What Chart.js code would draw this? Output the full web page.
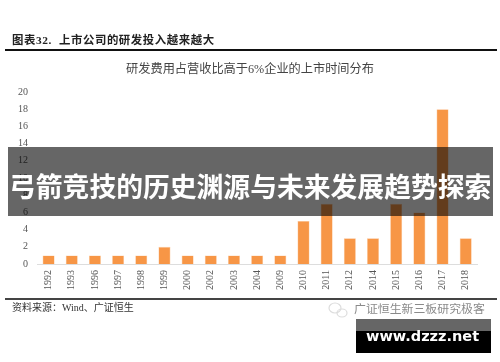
<!DOCTYPE html>
<html lang="zh">
<head>
<meta charset="utf-8">
<style>
html,body{margin:0;padding:0;background:#fff;}
#wrap{position:relative;width:500px;height:362px;overflow:hidden;filter:blur(0.45px);font-family:"Liberation Serif","Noto Sans CJK SC",serif;}
canvas{position:absolute;left:0;top:0;}
.t{position:absolute;white-space:nowrap;}
.rule{position:absolute;}
</style>
</head>
<body>
<div id="wrap">
  <canvas id="c" width="500" height="362"></canvas>
  <div class="t" style="left:12px;top:33px;font-size:11.4px;line-height:14px;font-weight:bold;letter-spacing:.6px;color:#222;">图表32.&nbsp; 上市公司的研发投入越来越大</div>
  <div class="rule" style="left:5px;top:49px;width:492px;height:2px;background:#111;"></div>
  <div class="t" id="title" style="left:0;width:500px;text-align:center;top:61px;font-size:12.2px;line-height:16px;color:#444;"></div>
  <div class="rule" style="left:5px;top:298px;width:492px;height:2px;background:#444;"></div>
  <div class="t" style="left:12px;top:301px;font-size:10px;line-height:14px;color:#333;">资料来源：Wind、广证恒生</div>
  <svg style="position:absolute;left:327px;top:300px;" width="22" height="20"><g fill="none" stroke="#ddd" stroke-width="1.2"><ellipse cx="8" cy="8" rx="6" ry="5"/><ellipse cx="15" cy="13" rx="5" ry="4"/></g></svg>
  <div class="t" style="left:354px;top:300px;font-family:'Noto Sans CJK SC';font-size:11.9px;line-height:16px;color:#8a8a8a;">广证恒生新三板研究极客</div>
  <div style="position:absolute;left:8px;top:147px;width:485px;height:69px;background:rgba(0,0,0,.6);"></div>
  <div class="t" style="left:9px;top:167px;font-family:'Noto Sans CJK SC';font-size:26.8px;line-height:38px;font-weight:bold;color:#fff;">弓箭竞技的历史渊源与未来发展趋势探索</div>
  <div style="position:absolute;left:356px;top:319px;width:135px;height:12px;background:#666;"></div>
  <div style="position:absolute;left:356px;top:331px;width:135px;height:22px;background:#000;"></div>
  <div class="t" style="left:366px;top:326px;font-family:'DejaVu Sans';font-size:14.5px;line-height:20px;font-weight:bold;color:#fff;">www.dzzz.net</div>
</div>
<script src="https://cdn.jsdelivr.net/npm/chart.js@4/dist/chart.umd.min.js"></script>
<script>
const categories = ['1992','1993','1996','1997','1998','1999','2000','2002','2003','2004','2009','2010','2011','2012','2014','2015','2016','2017','2018'];
const companies = [1,1,1,1,1,2,1,1,1,1,1,5,7,3,3,7,6,18,3];
const chartTitle = '研发费用占营收比高于6%企业的上市时间分布';
const tickFont = {family:'"Liberation Serif","Noto Sans CJK SC",serif', size:10};

document.getElementById('title').textContent = chartTitle;

new Chart(document.getElementById('c'), {
  type:'bar',
  data:{labels:categories, datasets:[{
    data:companies,
    backgroundColor:'#F79646',
    borderColor:'#FBC79C',
    borderWidth:0.6,
    barPercentage:0.52,
    categoryPercentage:1
  }]},
  options:{
    responsive:false,
    animation:false,
    layout:{padding:{left:0,right:22.7,top:92,bottom:0}},
    plugins:{
      legend:{display:false},
      tooltip:{enabled:false},
      title:{display:false}
    },
    scales:{
      x:{
        grid:{display:false,drawTicks:false},
        border:{color:'#DDDDDD',width:1},
        ticks:{color:'#555',font:tickFont,maxRotation:90,minRotation:90,padding:6,autoSkip:false},
        afterFit(s){s.height=98;}
      },
      y:{
        min:0,max:20,
        grid:{display:false,drawTicks:false},
        border:{display:false},
        ticks:{stepSize:2,color:'#555',font:tickFont,padding:9},
        afterFit(s){s.width=37;}
      }
    }
  }
});
</script>
</body>
</html>
